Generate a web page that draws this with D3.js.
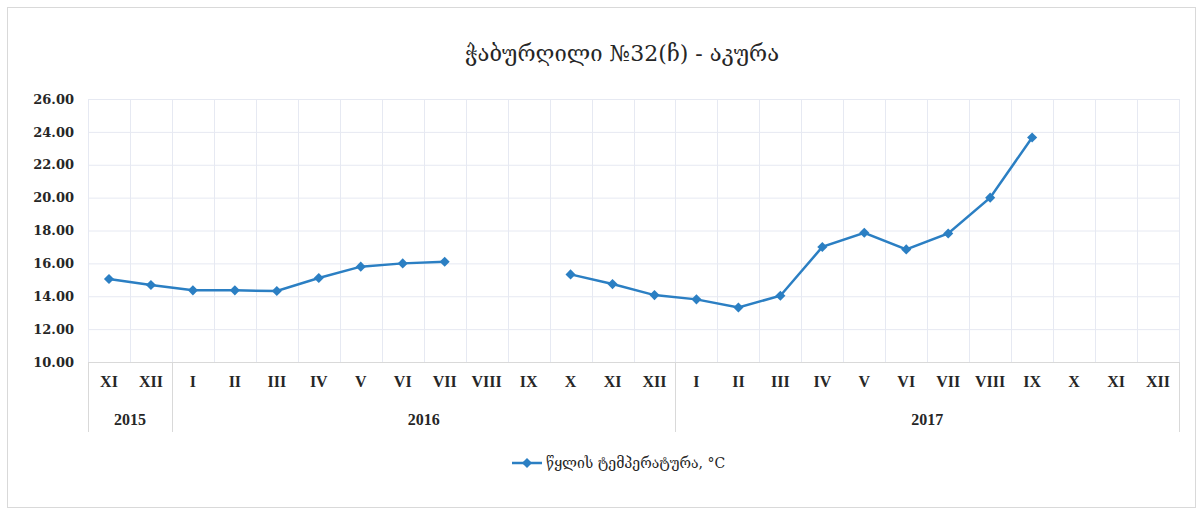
<!DOCTYPE html>
<html><head><meta charset="utf-8">
<script src="https://cdn.jsdelivr.net/npm/d3@7"></script>
<style>body{margin:0;background:#fff;}svg{display:block;}</style>
</head><body>
<svg id="c" width="1203" height="514"></svg>
<script>
const title = "ჭაბურღილი №32(ჩ) - აკურა";
const seriesName = "წყლის ტემპერატურა, °C";
const months = ["XI","XII","I","II","III","IV","V","VI","VII","VIII","IX","X","XI","XII","I","II","III","IV","V","VI","VII","VIII","IX","X","XI","XII"];
const years = [{label:"2015", n:2},{label:"2016", n:12},{label:"2017", n:12}];
const values = [15.05,14.68,14.36,14.36,14.32,15.11,15.8,16.0,16.1,null,null,15.33,14.74,14.07,13.81,13.32,14.03,17.0,17.86,16.85,17.82,20.0,23.66,null,null,null];
const yTicks = [10,12,14,16,18,20,22,24,26];

const svg = d3.select("#c");
const font = "'DejaVu Serif','Liberation Serif',serif";
const font2 = "'Liberation Serif','DejaVu Serif',serif";
const color = "#2b7fc3";
const L=88,R=1179,T=99,B=362;

svg.append("rect").attr("x",7.5).attr("y",7.5).attr("width",1188).attr("height",500)
  .attr("fill","#fff").attr("stroke","#d9d9d9");

svg.append("text").attr("x",622).attr("y",61).attr("text-anchor","middle")
  .attr("font-family",font).attr("font-size",22).attr("fill","#262626").text(title);

const idx = months.map((d,i)=>i);
const x = d3.scaleBand().domain(idx).range([L,R]);
const y = d3.scaleLinear().domain([10,26]).range([B,T]);

// horizontal grid
svg.append("g").selectAll("line").data(yTicks).join("line")
  .attr("x1",L).attr("x2",R).attr("y1",d=>y(d)+0.5).attr("y2",d=>y(d)+0.5)
  .attr("stroke",d=>d===10?"#d9d9d9":"#e6e9f2");
// vertical grid
svg.append("g").selectAll("line").data(d3.range(months.length+1)).join("line")
  .attr("x1",i=>Math.round(L+i*x.step())+0.5).attr("x2",i=>Math.round(L+i*x.step())+0.5)
  .attr("y1",T).attr("y2",B).attr("stroke","#e6e9f2");

// y axis labels
const ya = svg.append("g").attr("transform",`translate(${L},0)`)
  .call(d3.axisLeft(y).tickValues(yTicks).tickFormat(d3.format(".2f")).tickSize(0).tickPadding(14));
ya.select(".domain").remove();
ya.selectAll("text").attr("font-family",font).attr("font-size",13).attr("font-weight","bold").attr("fill","#262626");

// x axis month labels
const xa = svg.append("g").attr("transform",`translate(0,${B})`)
  .call(d3.axisBottom(x).tickFormat(i=>months[i]).tickSize(0).tickPadding(14));
xa.select(".domain").remove();
xa.selectAll("text").attr("font-family",font2).attr("font-size",16).attr("font-weight","bold").attr("fill","#262626");

// group separators and year labels
let start=0;
const bounds=[0];
years.forEach(g=>{start+=g.n;bounds.push(start);});
svg.append("g").selectAll("line").data(bounds).join("line")
  .attr("x1",b=>Math.round(L+b*x.step())+0.5).attr("x2",b=>Math.round(L+b*x.step())+0.5)
  .attr("y1",B).attr("y2",432).attr("stroke","#d9d9d9");
svg.append("g").selectAll("text").data(years).join("text")
  .attr("x",(g,i)=>L+(bounds[i]+g.n/2)*x.step()).attr("y",425)
  .attr("text-anchor","middle").attr("font-family",font2).attr("font-size",16).attr("font-weight","bold").attr("fill","#262626")
  .text(g=>g.label);

// line
const cx = i=>x(i)+x.bandwidth()/2;
const line = d3.line().defined(d=>d!=null).x((d,i)=>cx(i)).y(d=>y(d));
svg.append("path").datum(values).attr("d",line).attr("fill","none").attr("stroke",color).attr("stroke-width",2.5);
const diamond = d3.symbol().type(d3.symbolDiamond2).size(65);
svg.append("g").selectAll("path").data(values.map((v,i)=>({v,i})).filter(d=>d.v!=null)).join("path")
  .attr("d",diamond).attr("transform",d=>`translate(${cx(d.i)},${y(d.v)})`).attr("fill",color);

// legend
const lg = svg.append("g").attr("transform","translate(512,463)");
lg.append("line").attr("x1",0).attr("x2",30).attr("stroke",color).attr("stroke-width",2.5);
lg.append("path").attr("d",diamond).attr("transform","translate(15,0)").attr("fill",color);
lg.append("text").attr("x",34).attr("y",5).attr("font-family",font).attr("font-size",14).attr("fill","#262626").text(seriesName);
</script>
</body></html>
